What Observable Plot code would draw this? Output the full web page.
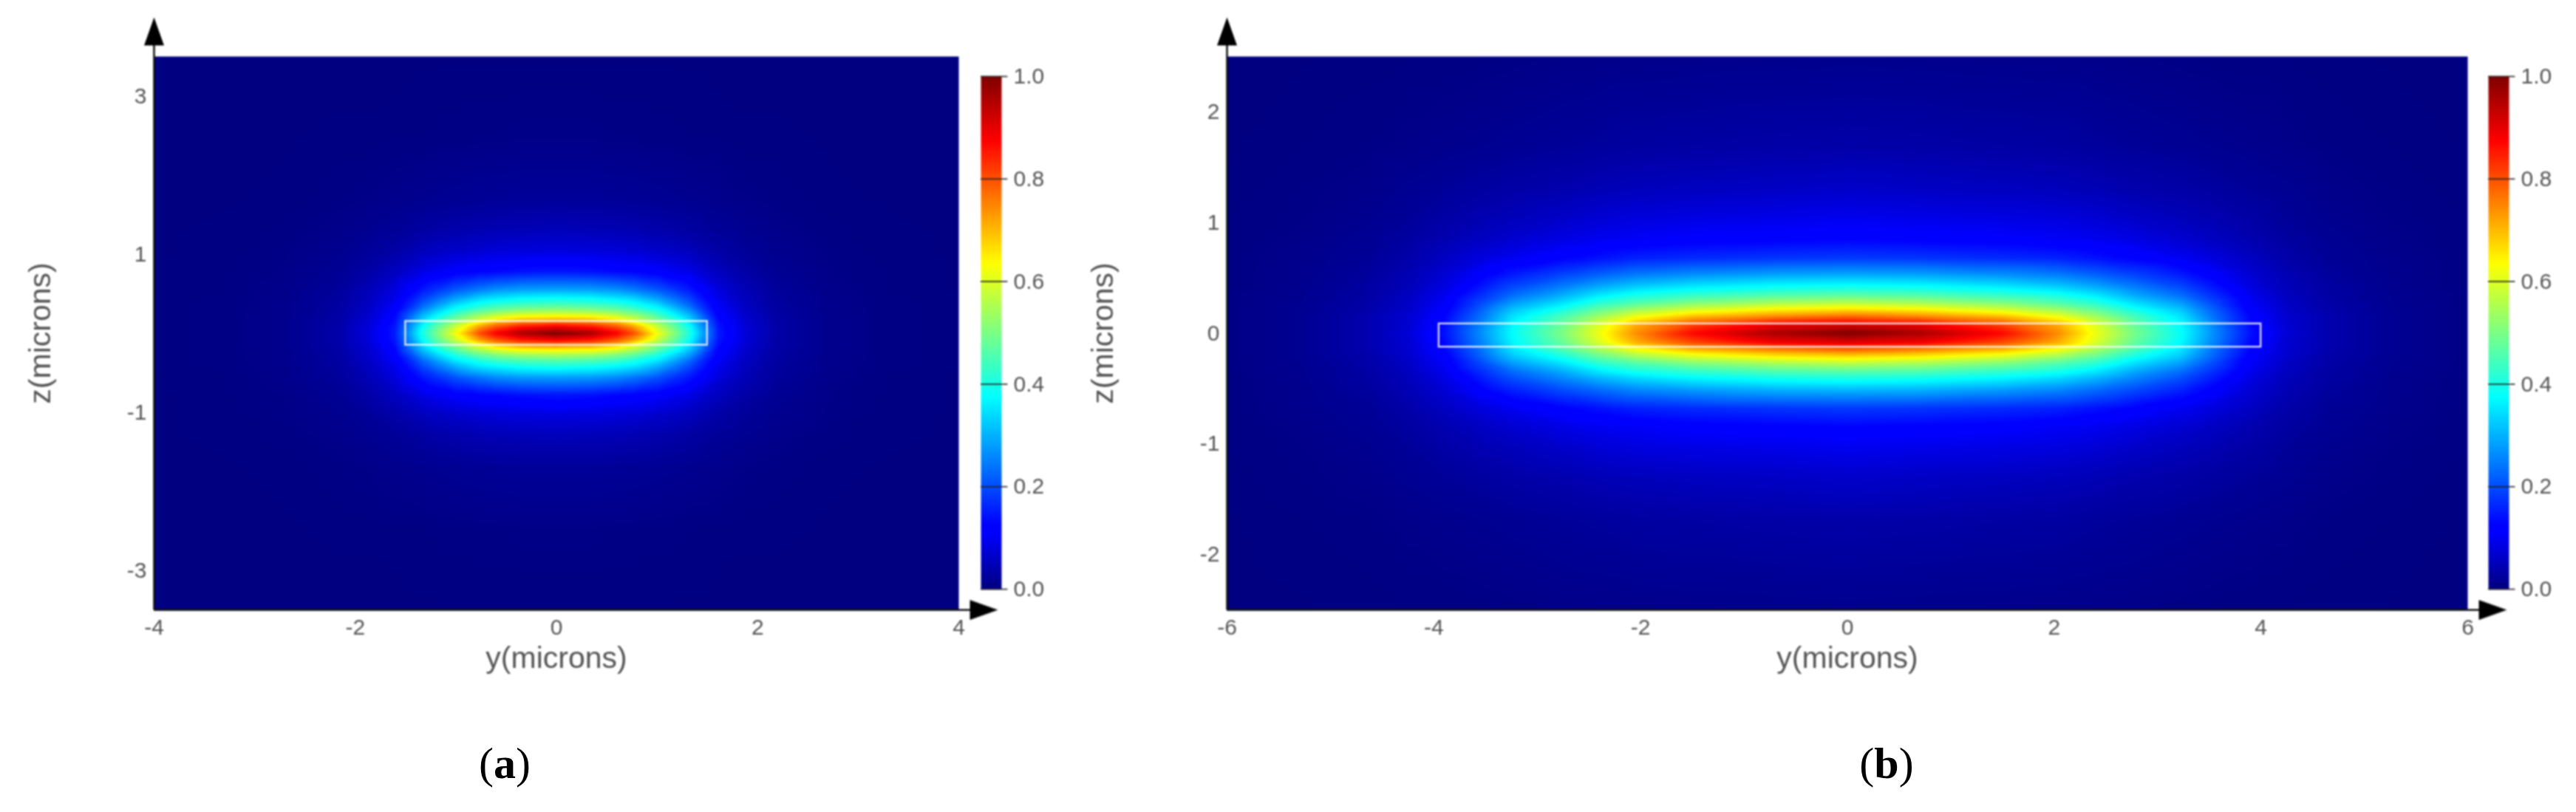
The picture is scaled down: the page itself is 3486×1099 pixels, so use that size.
<!DOCTYPE html>
<html><head><meta charset="utf-8">
<script src="https://cdn.jsdelivr.net/npm/d3@7"></script>
<script src="https://cdn.jsdelivr.net/npm/@observablehq/plot@0.6"></script>
<style>
html,body{margin:0;padding:0;background:#fff;width:3486px;height:1099px;overflow:hidden}
.w{position:absolute;filter:blur(0.9px)}
.cap{position:absolute;font-family:"Liberation Serif";font-size:60px;color:#000;transform:translateX(-50%);line-height:1}
.cap b{font-weight:700}
svg{max-width:none !important}
</style></head><body>
<div id="a" class="w" style="left:0;top:0"></div>
<div id="ca" class="w" style="left:1300px;top:0"></div>
<div id="b" class="w" style="left:1420px;top:0"></div>
<div id="cb" class="w" style="left:3340px;top:0"></div>
<div class="cap" style="left:683px;top:1003px">(<b>a</b>)</div>
<div class="cap" style="left:2553px;top:1003px">(<b>b</b>)</div>
<script>
const colorStops=[0,.11,.125,.375,.635,.875,1];
const colorRange=["#000080","#0000ff","#0000ff","#00ffff","#ffff00","#ff0000","#800000"];
const barTicks=[0,.2,.4,.6,.8,1];

// Panel (a): intensity for y >= 0, z >= 0 (the mode is symmetric)
const aY=[0,.35,.6,.77,1.01,1.19,1.33,1.44,1.61,1.86,2.17,2.7,3.3,4];
const aZ=[0,.08,.15,.2,.28,.35,.42,.56,.78,1.03,1.3,1.7,2.5,3.5];
const aRows=[
[1.0,.96,.88,.8,.62,.5,.4,.3,.15,.08,.035,.012,.004,.002],
[.89,.86,.8,.73,.58,.47,.38,.28,.145,.08,.035,.012,.004,.002],
[.76,.74,.69,.62,.51,.43,.34,.26,.135,.075,.035,.012,.004,.002],
[.66,.65,.61,.56,.47,.39,.32,.24,.125,.07,.033,.012,.004,.002],
[.54,.53,.5,.47,.4,.33,.27,.2,.115,.065,.03,.011,.004,.002],
[.46,.45,.43,.4,.35,.28,.225,.17,.105,.06,.03,.011,.004,.002],
[.40,.39,.37,.35,.295,.24,.195,.15,.095,.055,.027,.01,.004,.002],
[.28,.275,.26,.24,.205,.17,.145,.115,.08,.048,.024,.009,.003,.001],
[.145,.14,.13,.125,.115,.1,.088,.072,.055,.035,.018,.007,.003,.001],
[.085,.082,.078,.074,.066,.06,.053,.044,.034,.023,.013,.006,.002,.001],
[.05,.048,.046,.043,.038,.034,.03,.026,.021,.015,.009,.004,.002,.001],
[.022,.022,.02,.019,.017,.015,.013,.012,.01,.007,.005,.002,.001,0],
[.006,.006,.005,.005,.004,.004,.003,.003,.003,.002,.002,.001,0,0],
[.001,.001,.001,.001,.001,.001,.001,.001,0,0,0,0,0,0]];
const aXTicks=[-4,-2,0,2,4], aYTicks=[3,1,-1,-3];
const aCore={y:[-1.5,1.5],z:[-.15,.15]};

// Panel (b)
const bY=[0,.7,1.5,2.05,2.4,2.76,3.23,3.53,3.9,4.25,4.65,5.3,6];
const bZ=[0,.08,.15,.21,.27,.35,.41,.53,.68,.85,1.05,1.3,1.7,2.5];
const bRows=[
[1.0,.96,.87,.74,.62,.5,.38,.27,.14,.075,.04,.015,.005],
[.91,.89,.81,.71,.60,.48,.37,.26,.13,.07,.04,.015,.005],
[.78,.75,.70,.62,.54,.45,.35,.24,.125,.07,.04,.015,.005],
[.67,.65,.60,.54,.48,.40,.32,.225,.115,.065,.035,.015,.005],
[.57,.55,.51,.46,.42,.35,.28,.2,.105,.06,.035,.014,.005],
[.46,.45,.42,.39,.35,.29,.23,.17,.095,.055,.03,.013,.005],
[.40,.39,.365,.335,.30,.255,.2,.15,.085,.05,.03,.012,.004],
[.29,.285,.265,.245,.22,.19,.15,.115,.072,.045,.025,.011,.004],
[.18,.175,.165,.155,.14,.122,.1,.082,.057,.036,.02,.01,.004],
[.125,.12,.115,.105,.098,.087,.07,.058,.042,.029,.017,.008,.003],
[.095,.09,.085,.08,.072,.062,.05,.043,.032,.021,.013,.006,.003],
[.065,.06,.056,.052,.047,.04,.034,.028,.022,.016,.009,.005,.002],
[.035,.033,.03,.028,.024,.021,.017,.014,.011,.008,.005,.003,.001],
[.012,.011,.01,.009,.008,.007,.005,.004,.003,.003,.002,.001,0]];
const bXTicks=[-6,-4,-2,0,2,4,6], bYTicks=[2,1,0,-1,-2];
const bCore={y:[-3.95,4],z:[-.125,.085]};

const color={type:"linear",domain:colorStops,range:colorRange,interpolate:"rgb"};
const font="Liberation Sans";
const upTri={draw(c,s){const h=19,w=13.5;c.moveTo(0,-h);c.lineTo(w,h);c.lineTo(-w,h);c.closePath();}};

function cells(ys,zs,rows){
  const out=[];
  zs.forEach((z,i)=>ys.forEach((y,j)=>{
    for(const sy of y?[-1,1]:[1]) for(const sz of z?[-1,1]:[1])
      out.push({y:sy*y,z:sz*z,v:rows[i][j]});
  }));
  return out;
}
function panel(id,opt){
  const [x0,x1]=opt.xd,[z0,z1]=opt.zd;
  const pxZ=(z1-z0)/749, pxY=(x1-x0)/opt.pw;
  const fig=Plot.plot({
    width:opt.w,height:900,marginLeft:opt.ml,marginRight:opt.w-opt.ml-opt.pw,marginTop:76,marginBottom:75,
    style:{fontFamily:font,background:"transparent",overflow:"visible"},
    x:{domain:opt.xd},y:{domain:opt.zd},color,
    marks:[
      Plot.raster(cells(opt.ys,opt.zs,opt.rows),{x:"y",y:"z",fill:"v",interpolate:"barycentric",pixelSize:1}),
      Plot.rect([opt.core],{x1:d=>d.y[0],x2:d=>d.y[1],y1:d=>d.z[0],y2:d=>d.z[1],fill:null,stroke:"#fff",strokeOpacity:.8,strokeWidth:2.5}),
      Plot.axisX({ticks:opt.xt,tickFormat:String,tickSize:0,tickPadding:12,fontSize:30,color:"#555",label:"y(microns)",labelAnchor:"center",labelArrow:"none",labelOffset:78}),
      Plot.axisY({ticks:opt.yt,tickFormat:String,tickSize:0,tickPadding:10,fontSize:30,color:"#555",label:"z(microns)",labelAnchor:"center",labelArrow:"none",labelOffset:opt.lo}),
      Plot.ruleX([x0],{y1:z0,y2:z1+38*pxZ,stroke:"#111",strokeWidth:2.5}),
      Plot.ruleY([z0],{x1:x0,x2:x1+20*pxY,stroke:"#111",strokeWidth:2.5}),
      Plot.dot([0],{x:()=>x0,y:()=>z1+34*pxZ,symbol:upTri,fill:"#000",stroke:null,clip:false}),
      Plot.dot([0],{x:()=>x1+opt.ax*pxY,y:()=>z0,symbol:upTri,rotate:90,fill:"#000",stroke:null,clip:false})
    ]});
  fig.querySelectorAll('[aria-label="y-axis label"] text, [aria-label="x-axis label"] text').forEach(t=>t.setAttribute("font-size","41"));
  document.getElementById(id).append(fig);
}
function bar(id,ml){
  const fig=Plot.plot({
    width:140,height:900,marginLeft:ml,marginRight:140-ml-28,marginTop:103,marginBottom:103,
    style:{fontFamily:font,background:"transparent",overflow:"visible"},
    x:{domain:[0,1],axis:null},y:{domain:[0,1]},color,
    marks:[
      Plot.raster({fill:(x,y)=>y,x1:0,x2:1,y1:0,y2:1,width:1,height:512}),
      Plot.ruleY(barTicks,{x1:0,x2:1.3,stroke:"#222",strokeOpacity:.8,strokeWidth:2}),
      Plot.axisY(barTicks,{anchor:"right",tickFormat:d=>d.toFixed(1),tickSize:0,tickPadding:16,fontSize:30,color:"#555",label:null})
    ]});
  document.getElementById(id).append(fig);
}
panel("a",{w:1300,ml:208,pw:1089,xd:[-4,4],zd:[-3.5,3.5],ys:aY,zs:aZ,rows:aRows,core:aCore,xt:aXTicks,yt:aYTicks,lo:170,ax:34});
bar("ca",27);
panel("b",{w:1920,ml:240,pw:1679,xd:[-6,6],zd:[-2.5,2.5],ys:bY,zs:bZ,rows:bRows,core:bCore,xt:bXTicks,yt:bYTicks,lo:184,ax:34});
bar("cb",27);
</script>
</body></html>
